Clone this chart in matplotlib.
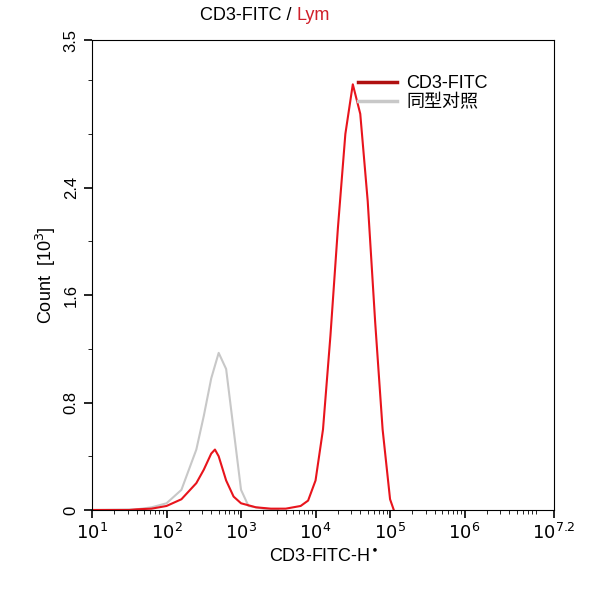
import matplotlib
matplotlib.use("Agg")
import matplotlib.pyplot as plt
import numpy as np

plt.rcParams['font.family'] = ['Liberation Sans', 'Noto Sans CJK SC', 'DejaVu Sans']

red_x = [1.0,1.5,1.6,1.8,2.0,2.2,2.4,2.5,2.6,2.65,2.7,2.8,2.9,3.0,3.2,3.4,3.6,3.8,3.9,4.0,4.1,4.2,4.3,4.4,4.5,4.6,4.7,4.8,4.9,5.0,5.05]
red_y = [0,0,0.005,0.01,0.03,0.08,0.2,0.3,0.42,0.45,0.4,0.22,0.1,0.05,0.02,0.01,0.01,0.03,0.07,0.22,0.6,1.3,2.1,2.8,3.17,2.95,2.3,1.4,0.6,0.08,0]
gray_x = [1.0,1.6,1.8,2.0,2.2,2.4,2.5,2.6,2.7,2.8,2.9,3.0,3.1,3.3,3.5]
gray_y = [0,0.005,0.02,0.05,0.15,0.45,0.7,0.98,1.17,1.05,0.6,0.15,0.03,0.01,0]
xticks = [1,2,3,4,5,6,7.2]
xlabels = ['$10^{1}$','$10^{2}$','$10^{3}$','$10^{4}$','$10^{5}$','$10^{6}$','$10^{7.2}$']
yticks = [0,0.8,1.6,2.4,3.5]
ylabels = ['0','0.8','1.6','2.4','3.5']

fig = plt.figure(figsize=(5.93,6.0), dpi=100)
ax = fig.add_axes([92/593, 90/600, 462/593, 470/600])
ax.plot(gray_x, gray_y, color='#c8c8c8', lw=1.5, label='同型对照')
ax.plot(red_x, red_y, color='#e8141c', lw=1.5, label='CD3-FITC')
ax.set_xlim(1,7.2); ax.set_ylim(0,3.5)
ax.set_xticks(xticks); ax.set_xticklabels(xlabels, fontsize=13)
ax.set_yticks(yticks); ax.set_yticklabels(ylabels, fontsize=12, rotation=90, va='center')
minor = []
for d in range(1,8):
    for m in range(2,10):
        v = d+np.log10(m)
        if v < 7.2: minor.append(v)
ax.set_xticks(minor, minor=True)
ax.set_yticks(np.arange(0,3.5,0.4), minor=True)
ax.tick_params(direction='out', length=6, width=1.2)
ax.tick_params(which='minor', length=3)
ax.set_xlabel('CD3-FITC-H$^{\\bullet}$', fontsize=13)
ax.set_ylabel('Count  [10$^{3}$]', fontsize=13)
h, l = ax.get_legend_handles_labels()
leg = ax.legend(h[::-1], l[::-1], loc='upper left', bbox_to_anchor=(0.54,0.96), frameon=False, fontsize=13, handlelength=2.2, handletextpad=0.5, labelspacing=0.1)
leg.get_lines()[0].set_color('#b01010'); leg.get_lines()[0].set_linewidth(2.5)
leg.get_lines()[1].set_linewidth(2.5)
fig.text(0.5, 0.975, 'CD3-FITC / ', ha='right', va='center', fontsize=13)
fig.text(0.5, 0.975, 'Lym', ha='left', va='center', fontsize=13, color='#d0202a')
fig.savefig('out.png', dpi=100)
